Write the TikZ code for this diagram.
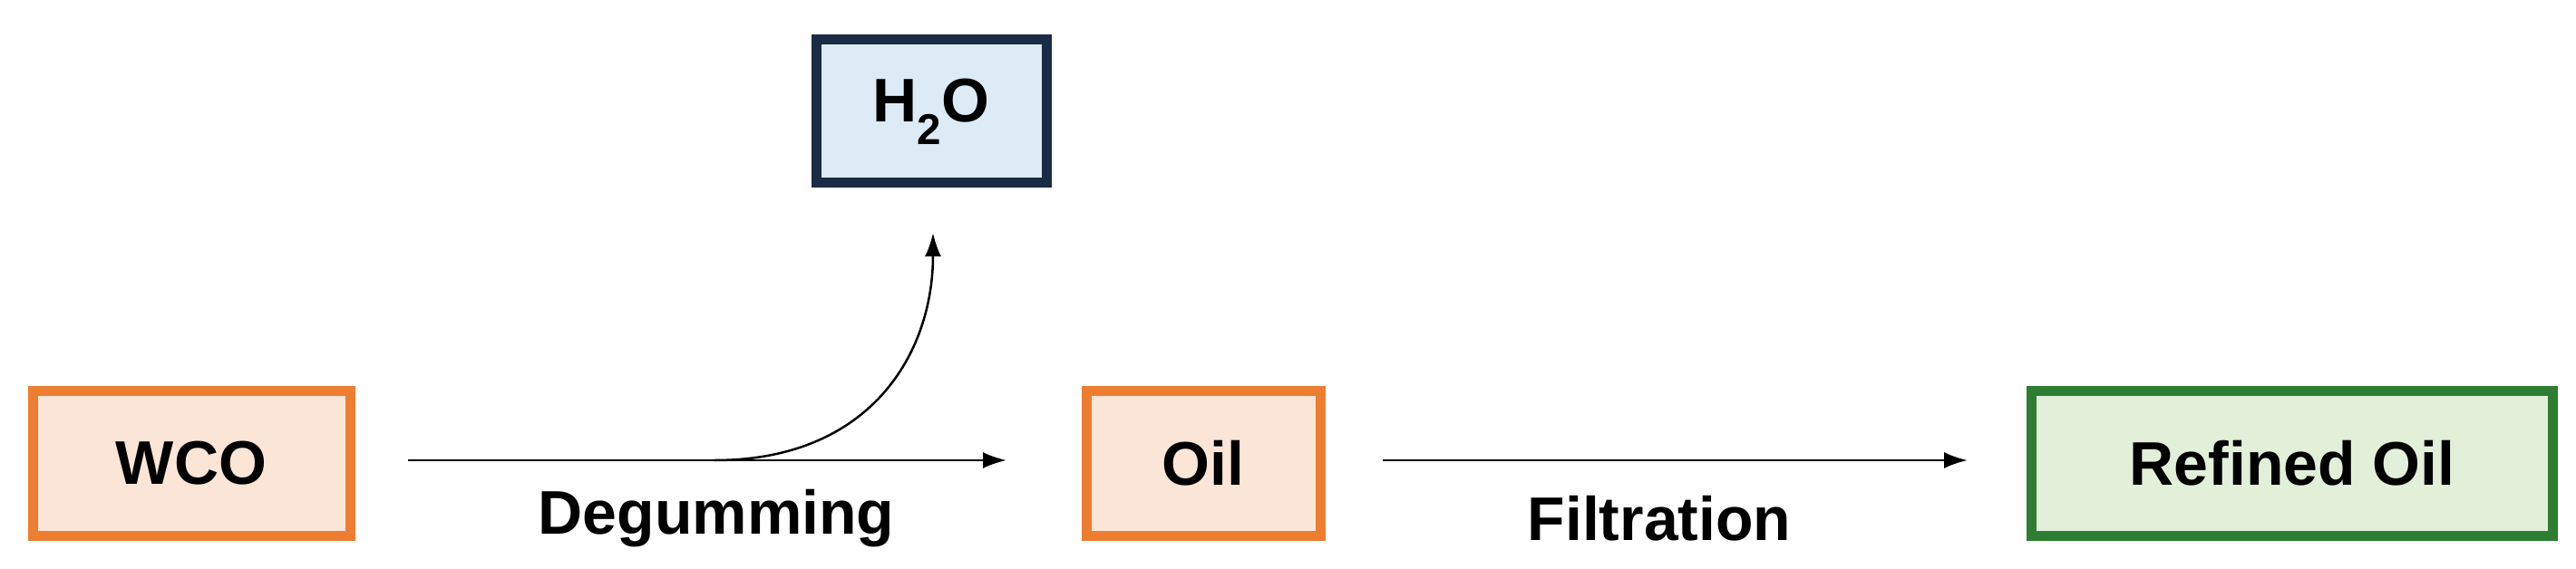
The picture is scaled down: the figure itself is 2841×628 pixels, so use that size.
\documentclass[tikz,border=0pt]{standalone}
\usepackage{fontspec}
\setmainfont{Liberation Sans}
\usetikzlibrary{arrows.meta}
\definecolor{oe}{HTML}{ED7D31}\definecolor{of}{HTML}{FBE5D6}
\definecolor{ne}{HTML}{1A2B45}\definecolor{nf}{HTML}{DDEBF7}
\definecolor{ge}{HTML}{2E7D32}\definecolor{gf}{HTML}{E2F0D9}
\begin{document}
\begin{tikzpicture}[x=1pt,y=-1pt,
 box/.style={draw,line width=11pt,font=\fontsize{68}{80}\selectfont\bfseries,inner sep=0},
 lab/.style={font=\fontsize{68}{80}\selectfont\bfseries},
 arr/.style={line width=2.5pt,-{Latex[length=26pt,width=18pt]}}]
\useasboundingbox (0,0) rectangle (2841,628);
\node[box,draw=oe,fill=of,minimum width=350pt,minimum height=160pt] (wco) at (211,511) {WCO};
\node[box,draw=ne,fill=nf,minimum width=254pt,minimum height=158pt] (h2o) at (1027,123) {H\textsubscript{2}O};
\node[box,draw=oe,fill=of,minimum width=258pt,minimum height=160pt] (oil) at (1327,511) {Oil};
\node[box,draw=ge,fill=gf,minimum width=575pt,minimum height=160pt] (ref) at (2528,511) {Refined Oil};
\coordinate (a1) at (450,508);
\coordinate (a2) at (1110,508);
\coordinate (b) at (788,508);
\coordinate (c) at (1029,257);
\coordinate (d1) at (1525,508);
\coordinate (d2) at (2170,508);
\draw[arr] (a1) -- (a2);
\draw[arr] (b) .. controls (960,508) and (1029,390) .. (c);
\draw[arr] (d1) -- (d2);
\node[lab] (deg) at (790,572) {Degumming};
\node[lab] (fil) at (1830,572) {Filtration};
\end{tikzpicture}
\end{document}
